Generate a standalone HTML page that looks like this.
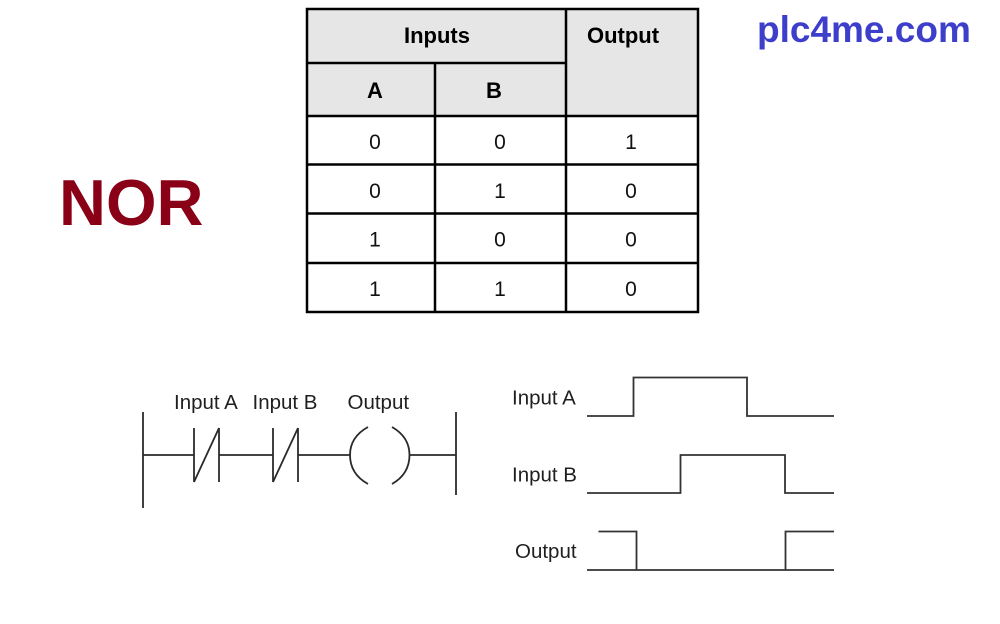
<!DOCTYPE html>
<html>
<head>
<meta charset="utf-8">
<style>
html,body{margin:0;padding:0;background:#fff;}
body{width:1000px;height:624px;overflow:hidden;}
svg{display:block;}
</style>
</head>
<body>
<svg width="1000" height="624" viewBox="0 0 1000 624" xmlns="http://www.w3.org/2000/svg">
  <rect x="0" y="0" width="1000" height="624" fill="#ffffff"/>

  <!-- Title -->
  <text x="59" y="225" font-family="Liberation Sans, Arial, sans-serif" font-weight="bold" font-size="65" fill="#8a0016">NOR</text>
  <text x="757" y="42" font-family="Liberation Sans, Arial, sans-serif" font-weight="bold" font-size="37" fill="#3d3fcb">plc4me.com</text>

  <!-- Truth table -->
  <rect x="307" y="9" width="391" height="107" fill="#e6e6e6"/>
  <g stroke="#000" stroke-width="2.5" fill="none">
    <rect x="307" y="9" width="391" height="303"/>
    <line x1="307" y1="63" x2="566" y2="63"/>
    <line x1="307" y1="116" x2="698" y2="116"/>
    <line x1="307" y1="164.5" x2="698" y2="164.5"/>
    <line x1="307" y1="213.5" x2="698" y2="213.5"/>
    <line x1="307" y1="263" x2="698" y2="263"/>
    <line x1="435" y1="63" x2="435" y2="312"/>
    <line x1="566" y1="9" x2="566" y2="312"/>
  </g>
  <g font-family="Liberation Sans, Arial, sans-serif" font-weight="bold" font-size="22" fill="#000" text-anchor="middle">
    <text x="437" y="43">Inputs</text>
    <text x="623" y="43">Output</text>
    <text x="375" y="98">A</text>
    <text x="494" y="98">B</text>
  </g>
  <g font-family="Liberation Sans, Arial, sans-serif" font-size="21" fill="#111" text-anchor="middle">
    <text x="375" y="149">0</text><text x="500" y="149">0</text><text x="631" y="149">1</text>
    <text x="375" y="198">0</text><text x="500" y="198">1</text><text x="631" y="198">0</text>
    <text x="375" y="246.5">1</text><text x="500" y="246.5">0</text><text x="631" y="246.5">0</text>
    <text x="375" y="296">1</text><text x="500" y="296">1</text><text x="631" y="296">0</text>
  </g>

  <!-- Ladder diagram -->
  <g font-family="Liberation Sans, Arial, sans-serif" font-size="20.5" fill="#1f1f1f">
    <text x="174" y="409">Input A</text>
    <text x="252.5" y="409">Input B</text>
    <text x="347.5" y="409">Output</text>
  </g>
  <g stroke="#2a2a2a" stroke-width="1.8" fill="none">
    <line x1="143" y1="412" x2="143" y2="508"/>
    <line x1="456" y1="412" x2="456" y2="495"/>
    <line x1="143" y1="455" x2="194" y2="455"/>
    <line x1="194" y1="428" x2="194" y2="482"/>
    <line x1="219" y1="428" x2="219" y2="482"/>
    <line x1="194" y1="482" x2="219" y2="428"/>
    <line x1="219" y1="455" x2="273" y2="455"/>
    <line x1="273" y1="428" x2="273" y2="482"/>
    <line x1="298" y1="428" x2="298" y2="482"/>
    <line x1="273" y1="482" x2="298" y2="428"/>
    <line x1="298" y1="455" x2="350" y2="455"/>
    <path d="M368,427 Q350,437 350,455 Q350,474 368,484"/>
    <path d="M392,427 Q409.5,437 409.5,455 Q409.5,474 392,484"/>
    <line x1="409.5" y1="455" x2="456" y2="455"/>
  </g>

  <!-- Timing diagram -->
  <g font-family="Liberation Sans, Arial, sans-serif" font-size="20.5" fill="#1f1f1f">
    <text x="512" y="404.5">Input A</text>
    <text x="512" y="481.5">Input B</text>
    <text x="515" y="558">Output</text>
  </g>
  <g stroke="#333" stroke-width="1.8" fill="none">
    <polyline points="587,416 633.5,416 633.5,377.5 747,377.5 747,416 834,416"/>
    <polyline points="587,493 680.5,493 680.5,455 785,455 785,493 834,493"/>
    <polyline points="598.5,531.5 636.5,531.5 636.5,570"/>
    <line x1="587" y1="570" x2="834" y2="570"/>
    <polyline points="785.5,570 785.5,531.5 834,531.5"/>
  </g>
</svg>
</body>
</html>
